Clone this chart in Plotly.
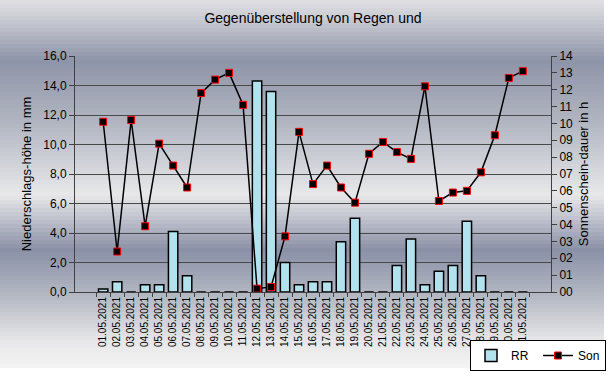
import plotly.graph_objects as go

dates = [f"{d:02d}.05.2021" for d in range(1, 32)]
rr = [0.2, 0.7, 0.0, 0.5, 0.5, 4.1, 1.1, 0.0, 0.0, 0.0, 0.0, 14.3, 13.6, 2.0, 0.5,
      0.7, 0.7, 3.4, 5.0, 0.0, 0.0, 1.8, 3.6, 0.5, 1.4, 1.8, 4.8, 1.1, 0.0, 0.0, 0.0]
son = [10.1, 2.4, 10.2, 3.9, 8.8, 7.5, 6.2, 11.8, 12.6, 13.0, 11.1, 0.2, 0.3, 3.3, 9.5,
       6.4, 7.5, 6.2, 5.3, 8.2, 8.9, 8.3, 7.9, 12.2, 5.4, 5.9, 6.0, 7.1, 9.3, 12.7, 13.1]
left_ticks = [0, 2, 4, 6, 8, 10, 12, 14, 16]
right_ticks = list(range(0, 15))

W, H = 614, 389
L, R, T, B = 75, 551, 56, 292

def px2paper(x, y):
    return (x - L) / (R - L), (B - y) / (B - T)

# background gradient (style)
stops = [(0, (224, 224, 228)), (20, (200, 202, 210)), (60, (142, 148, 168)),
         (120, (176, 180, 192)), (195, (232, 232, 234)), (250, (138, 144, 166)),
         (300, (184, 188, 198)), (340, (230, 230, 232)), (368, (244, 244, 244))]

def col_at(y):
    for (y0, c0), (y1, c1) in zip(stops[:-1], stops[1:]):
        if y0 <= y <= y1:
            t = (y - y0) / (y1 - y0)
            return "rgb(%d,%d,%d)" % tuple(round(a + (b - a) * t) for a, b in zip(c0, c1))
    return "rgb(244,244,244)"

shapes = []
step = 4
for y in range(0, 368, step):
    x0, y0 = px2paper(0, y)
    x1, y1 = px2paper(604, min(y + step + 0.5, 368))
    shapes.append(dict(type="rect", xref="paper", yref="paper", x0=x0, x1=x1, y0=y1, y1=y0,
                       fillcolor=col_at(y + step / 2), line=dict(width=0), layer="below"))

fig = go.Figure()
fig.add_trace(go.Bar(x=dates, y=rr, name="RR",
                     marker=dict(color="#b2e2ee", line=dict(color="black", width=1.5)),
                     yaxis="y"))
fig.add_trace(go.Scatter(x=dates, y=son, name="Son", mode="lines+markers", yaxis="y2",
                         line=dict(color="black", width=1.5),
                         marker=dict(symbol="square", size=7, color="black",
                                     line=dict(color="#ff0000", width=1))))

font = "Arial, Liberation Sans, sans-serif"
fig.update_layout(
    width=W, height=H,
    margin=dict(l=L, r=W - R, t=T, b=H - B, pad=0, autoexpand=False),
    paper_bgcolor="white", plot_bgcolor="#ffcc99",
    separators=",.",
    bargap=0.33,
    shapes=shapes,
    font=dict(family=font, color="black"),
    title=dict(text="Gegenüberstellung von Regen und", x=0.5, xref="paper",
               y=1 - 18 / H, yref="container",
               yanchor="middle", font=dict(size=14, family=font, color="black")),
    showlegend=True,
    legend=dict(orientation="h", x=470 / W, y=1 - 340 / H, xref="container", yref="container",
                xanchor="left", yanchor="top",
                bgcolor="white", bordercolor="black", borderwidth=1,
                font=dict(size=12, family=font), itemwidth=30, tracegroupgap=0,
                entrywidth=22, entrywidthmode="pixels"),
    xaxis=dict(type="category", tickangle=-90, tickfont=dict(size=10, family=font),
               ticks="outside", tickson="boundaries", ticklen=4, tickcolor="#404040",
               showline=True, linecolor="#404040", linewidth=1, showgrid=False,
               automargin=False),
    yaxis=dict(range=[0, 16], tickvals=left_ticks, tickformat=".1f", ticks="outside",
               ticklen=5, tickcolor="#404040", showline=True, linecolor="#404040",
               gridcolor="#4a4a4a", gridwidth=1, zeroline=False, automargin=False,
               tickfont=dict(size=12, family=font),
               title=dict(text="Niederschlags-höhe in mm", font=dict(size=13, family=font),
                          standoff=8)),
    yaxis2=dict(range=[0, 14], overlaying="y", side="right", tickvals=right_ticks,
                tickformat="02d", ticks="outside", ticklen=5, tickcolor="#404040",
                showline=True, linecolor="#404040", showgrid=False, zeroline=False,
                automargin=False,
                tickfont=dict(size=12, family=font),
                title=dict(text="Sonnenschein-dauer in h", font=dict(size=13, family=font),
                           standoff=6)),
)
fig.write_html("out.html", config={"displayModeBar": False},
               post_script="document.body.style.margin='0';document.body.style.padding='0';")
